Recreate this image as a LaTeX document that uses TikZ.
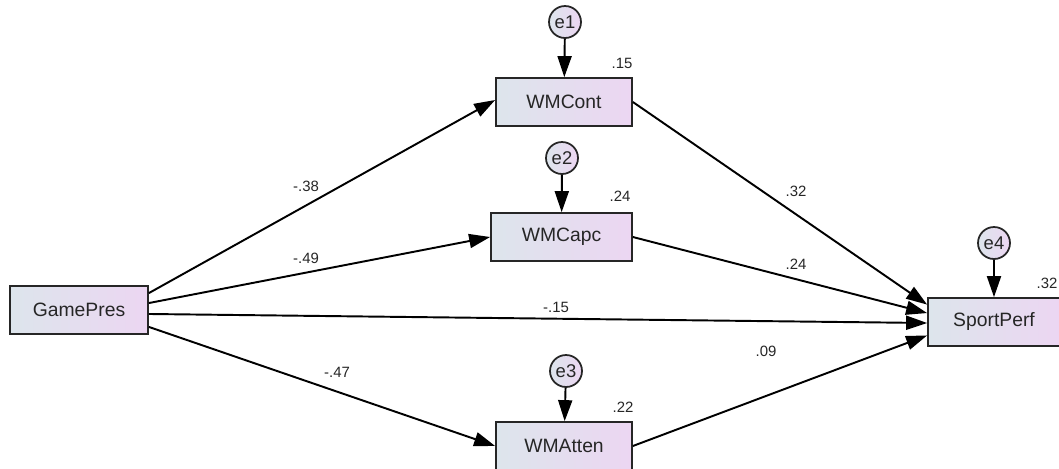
\documentclass[tikz,border=0pt]{standalone}
\usepackage{fontspec}
\setmainfont{Liberation Sans}
\usetikzlibrary{arrows.meta,calc}
\definecolor{obsleft}{HTML}{DDE5EC}
\definecolor{obsright}{HTML}{ECD6F2}

\begin{document}
\begin{tikzpicture}[x=0.02cm,y=-0.02cm,var/.style={draw=black!85,line width=1pt,left color=obsleft,right color=obsright,minimum width=2.72cm,minimum height=0.96cm,inner sep=0pt,text=black!85,font=\fontsize{11}{13}\selectfont},err/.style={circle,draw=black!85,line width=1pt,left color=obsleft,right color=obsright,minimum size=0.64cm,inner sep=0pt,text=black!85,font=\fontsize{10.5}{12}\selectfont},coef/.style={inner sep=1pt,text=black!85,font=\fontsize{8.5}{10}\selectfont},arrow/.style={-{Triangle[length=4.2mm,width=2.8mm]},line width=1.1pt,draw=black}]
\useasboundingbox (0,0) rectangle (1059,468);
\node[var,minimum width=2.76cm] (gp) at (79,310) {GamePres};
\node[var] (cont) at (564,102) {WMCont};
\node[var,minimum width=2.82cm] (capc) at (561.5,237) {WMCapc};
\node[var] (atten) at (564,446) {WMAtten};
\node[var,minimum width=2.64cm] (perf) at (994,322) {SportPerf};
\node[err] (e1) at (565,22) {e1};
\node[err] (e2) at (562,158) {e2};
\node[err] (e3) at (566,371) {e3};
\node[err] (e4) at (994,243) {e4};
\draw[arrow] (e1) -- (cont);
\draw[arrow] (e2) -- (capc);
\draw[arrow] (e3) -- (atten);
\draw[arrow] (e4) -- (perf);
\draw[arrow] ($(gp.north east)!.16!(gp.south east)$) -- ($(cont.north west)!.46!(cont.south west)$);
\draw[arrow] ($(gp.north east)!.36!(gp.south east)$) -- (capc.west);
\draw[arrow] ($(gp.north east)!.58!(gp.south east)$) -- ($(perf.north west)!.52!(perf.south west)$);
\draw[arrow] ($(gp.north east)!.84!(gp.south east)$) -- (atten.west);
\draw[arrow] (cont.east) -- ($(perf.north west)!.15!(perf.south west)$);
\draw[arrow] (capc.east) -- ($(perf.north west)!.32!(perf.south west)$);
\draw[arrow] (atten.east) -- ($(perf.north west)!.77!(perf.south west)$);
\node[coef] (r1) at (622,63) {.15};
\node[coef] (r2) at (620,196) {.24};
\node[coef] (r3) at (623,407) {.22};
\node[coef] (r4) at (1047,283) {.32};
\node[coef] (c1) at (306,186) {-.38};
\node[coef] (c2) at (306,258) {-.49};
\node[coef] (c3) at (556,307) {-.15};
\node[coef] (c4) at (337,372) {-.47};
\node[coef] (c5) at (796,191) {.32};
\node[coef] (c6) at (796,264) {.24};
\node[coef] (c7) at (766,351) {.09};
\end{tikzpicture}
\end{document}
